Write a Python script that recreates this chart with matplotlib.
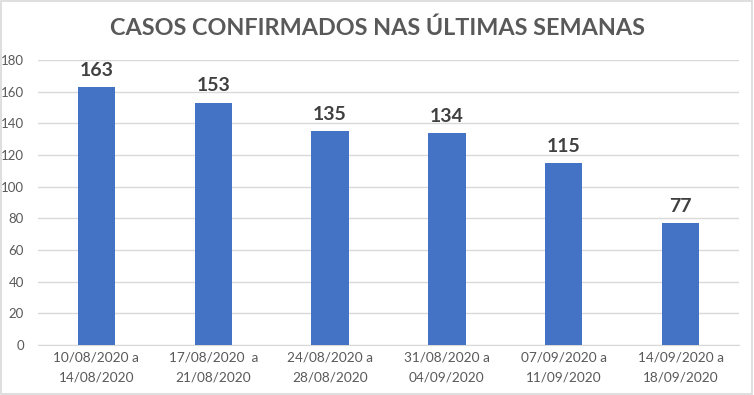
import matplotlib
matplotlib.use("Agg")
import matplotlib.pyplot as plt
from matplotlib.patches import Rectangle

categories = ["10/08/2020 a\n14/08/2020", "17/08/2020  a\n21/08/2020", "24/08/2020 a\n28/08/2020",
              "31/08/2020 a\n04/09/2020", "07/09/2020 a\n11/09/2020", "14/09/2020 a\n18/09/2020"]
values = [163, 153, 135, 134, 115, 77]
yticks = [0, 20, 40, 60, 80, 100, 120, 140, 160, 180]
title = "CASOS CONFIRMADOS NAS ÚLTIMAS SEMANAS"

plt.rcParams['font.family'] = ['Lato', 'DejaVu Sans']

fig = plt.figure(figsize=(7.54, 3.95), dpi=100)
fig.patches.append(Rectangle((0.001, 0.002), 0.997, 0.995, transform=fig.transFigure,
                             fill=False, edgecolor='#d9d9d9', linewidth=1.2))
ax = fig.add_axes([0.0504, 0.1266, 0.9296, 0.7214])
x = list(range(len(values)))
bars = ax.bar(x, values, width=0.32, color='#4472C4', zorder=3)
ax.set_xlim(-0.5, len(values) - 0.5)
ax.set_ylim(0, 180)
ax.set_yticks(yticks)
ax.set_xticks(x)
ax.set_xticklabels(categories, fontsize=9.8, color='#595959', linespacing=1.75)
ax.tick_params(axis='y', labelsize=9.5, colors='#595959', length=0, pad=10)
ax.tick_params(axis='x', length=0, pad=5)
ax.grid(axis='y', color='#d9d9d9', linewidth=1, zorder=0)
for s in ['top', 'right', 'left']:
    ax.spines[s].set_visible(False)
ax.spines['bottom'].set_color('#d9d9d9')
for xi, v in zip(x, values):
    ax.annotate(str(v), (xi, v), xytext=(0, 6), textcoords='offset points',
                ha='center', va='bottom', fontsize=14, fontweight='bold', color='#404040')
fig.text(0.5, 0.928, title, ha='center', va='center', fontsize=16.8, fontweight='bold', color='#595959')
fig.savefig('out.png', dpi=100)
